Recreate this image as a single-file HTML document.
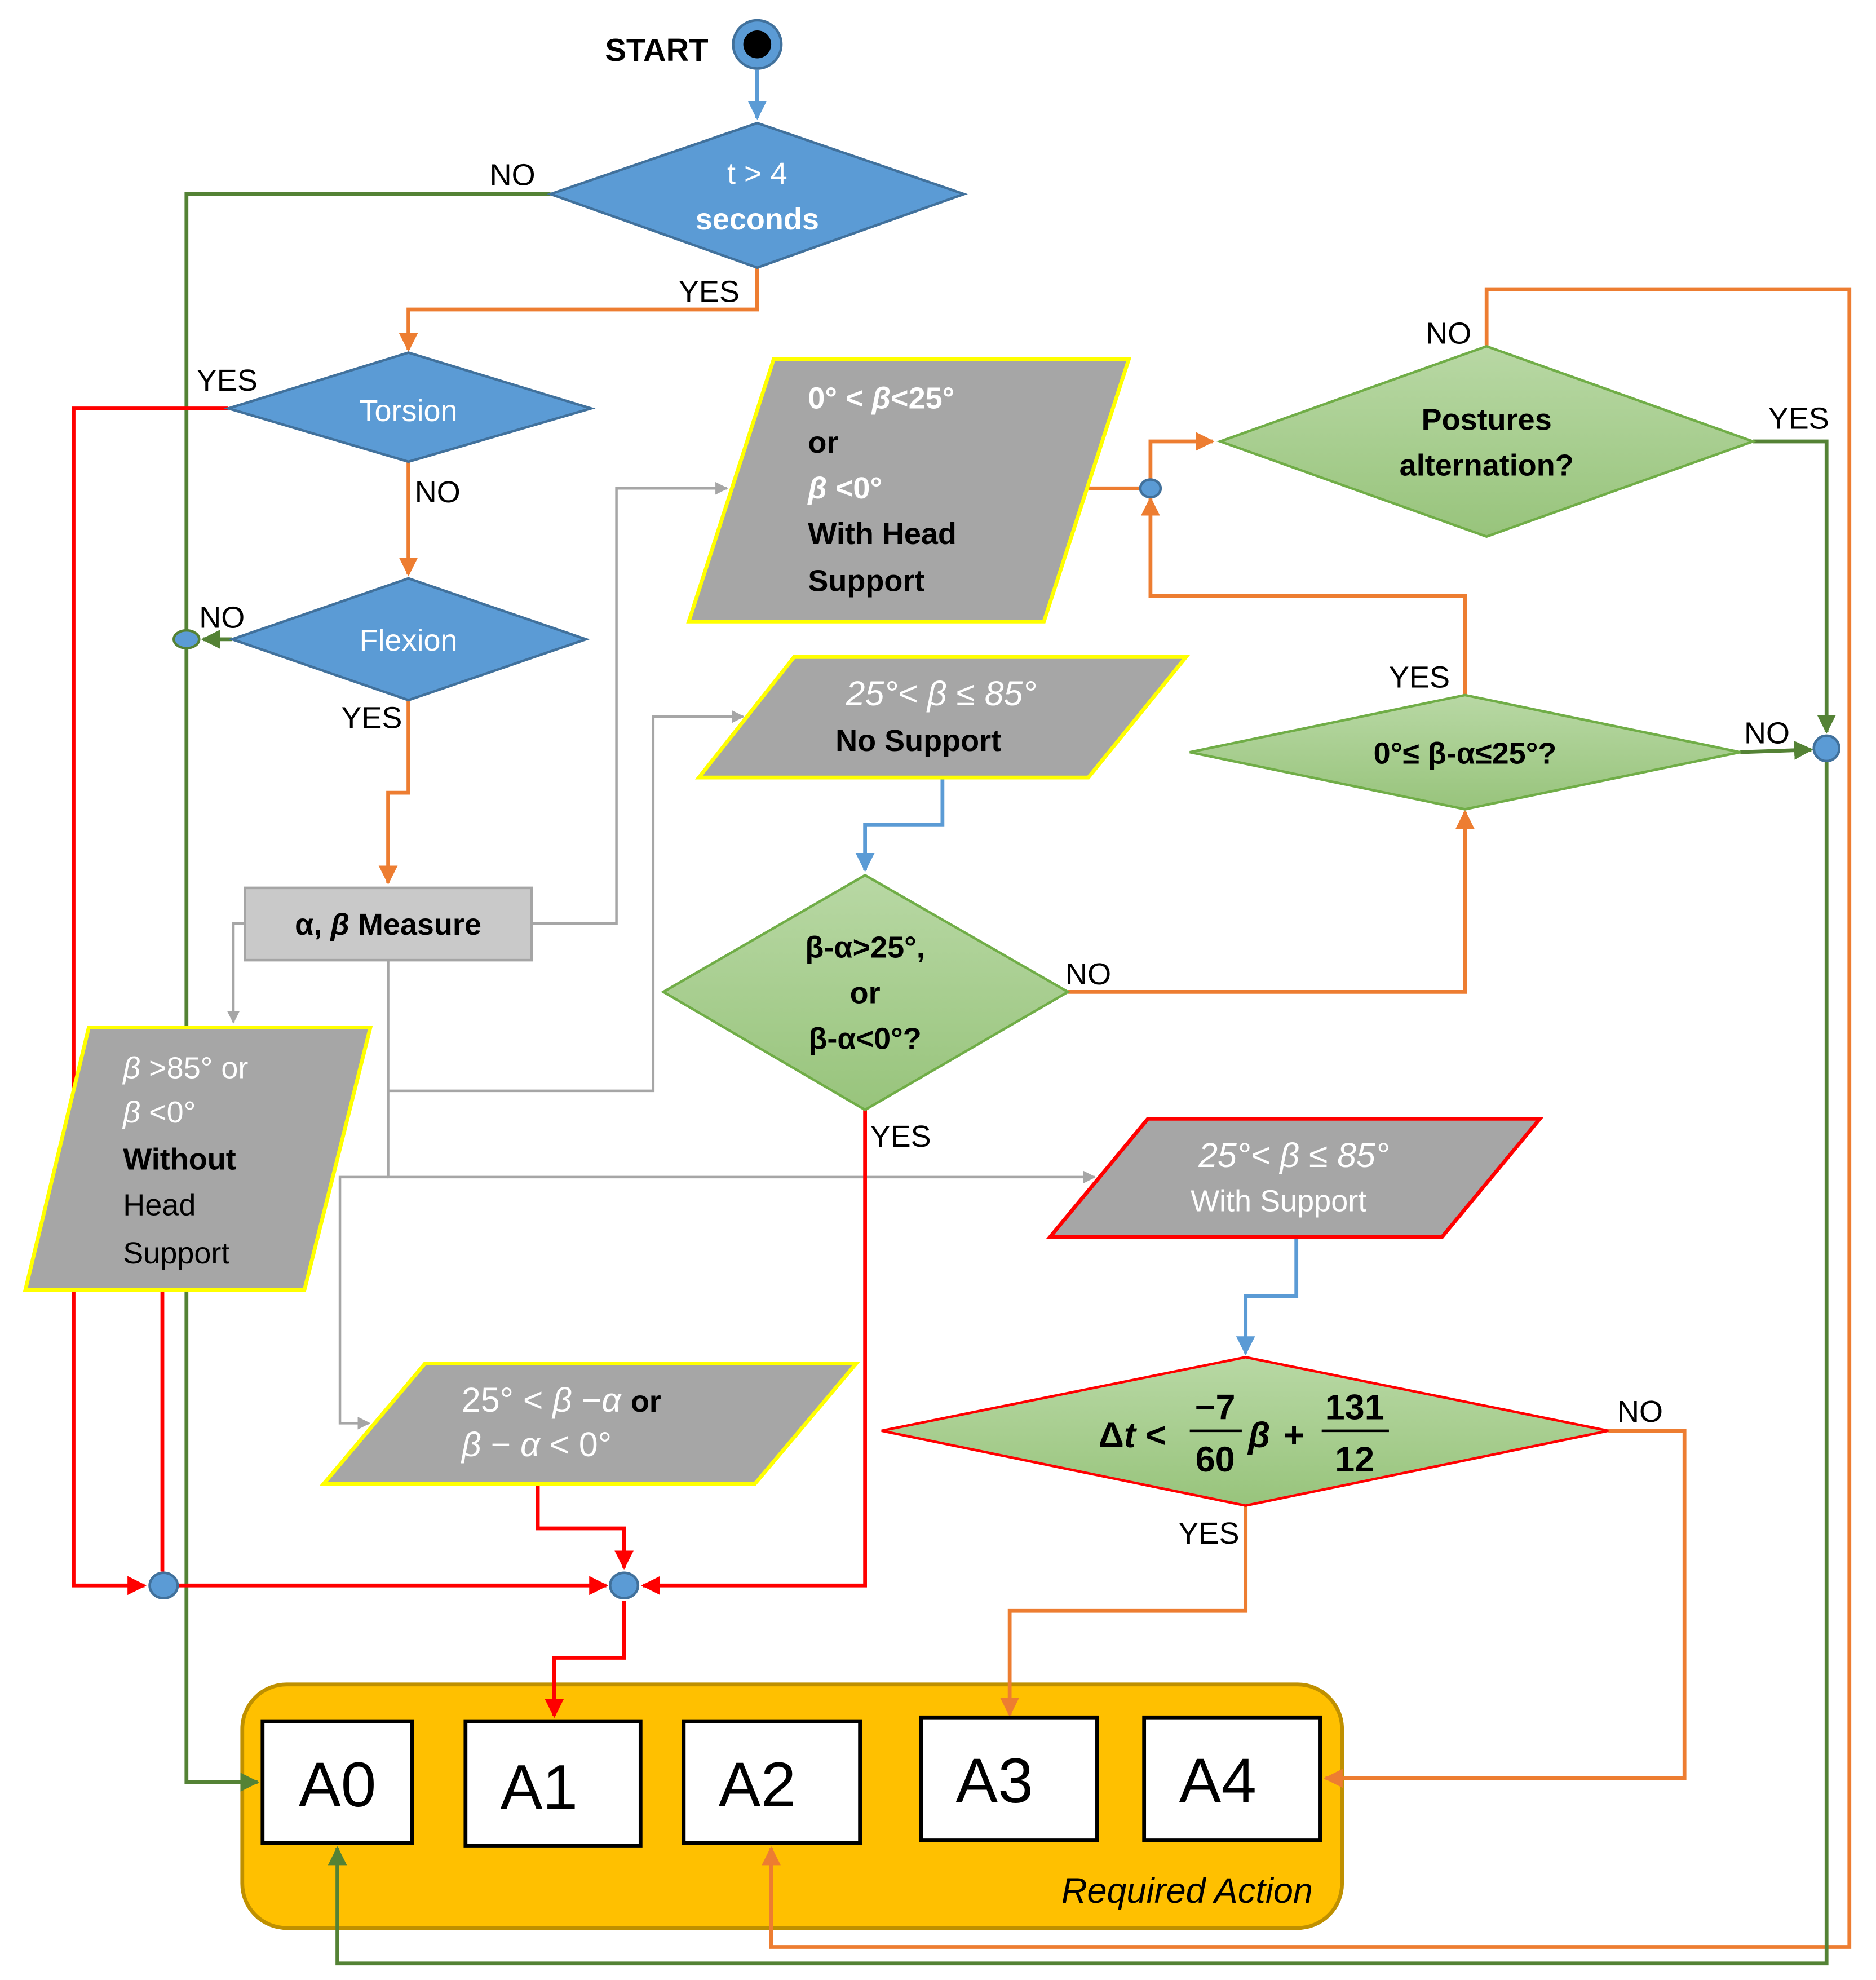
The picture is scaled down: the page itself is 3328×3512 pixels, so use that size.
<!DOCTYPE html>
<html><head><meta charset="utf-8"><style>
html,body{margin:0;padding:0;background:#fff;}
svg{display:block;}
text{font-family:"Liberation Sans",sans-serif;}
</style></head><body>
<svg width="3328" height="3512" viewBox="0 0 1479 1561" preserveAspectRatio="none" xmlns="http://www.w3.org/2000/svg">
<defs>
<linearGradient id="g" x1="0" y1="0" x2="0" y2="1"><stop offset="0" stop-color="#b8d8a4"/><stop offset="1" stop-color="#98c47c"/></linearGradient>
<marker id="ab" viewBox="0 0 10 10" refX="9" refY="5" markerWidth="5" markerHeight="5" orient="auto"><path d="M0,0L10,5L0,10z" fill="#5b9bd5"/></marker>
<marker id="ao" viewBox="0 0 10 10" refX="9" refY="5" markerWidth="5" markerHeight="5" orient="auto"><path d="M0,0L10,5L0,10z" fill="#ed7d31"/></marker>
<marker id="ar" viewBox="0 0 10 10" refX="9" refY="5" markerWidth="5" markerHeight="5" orient="auto"><path d="M0,0L10,5L0,10z" fill="#ff0000"/></marker>
<marker id="ag" viewBox="0 0 10 10" refX="9" refY="5" markerWidth="5" markerHeight="5" orient="auto"><path d="M0,0L10,5L0,10z" fill="#548235"/></marker>
<marker id="ay" viewBox="0 0 10 10" refX="9" refY="5" markerWidth="5" markerHeight="5" orient="auto"><path d="M0,0L10,5L0,10z" fill="#a6a6a6"/></marker>
</defs>

<!-- container -->
<rect x="191" y="1328" width="867" height="192" rx="35" fill="#ffc000" stroke="#bf9000" stroke-width="3"/>

<!-- connectors -->
<g fill="none" stroke-width="3">
<path d="M597,55V93" stroke="#5b9bd5" marker-end="url(#ab)"/>
<path d="M434,153H147V1405H203" stroke="#548235" marker-end="url(#ag)"/>
<path d="M597,211V244H322V276" stroke="#ed7d31" marker-end="url(#ao)"/>
<path d="M180,322H58V1250H114" stroke="#ff0000" marker-end="url(#ar)"/>
<path d="M322,364V453" stroke="#ed7d31" marker-end="url(#ao)"/>
<path d="M183,504H160" stroke="#548235" marker-end="url(#ag)"/>
<path d="M322,552V625H306V696" stroke="#ed7d31" marker-end="url(#ao)"/>
<g stroke="#a6a6a6" stroke-width="2">
<path d="M419,728H486V385H573" marker-end="url(#ay)"/>
<path d="M193,728H184V806" marker-end="url(#ay)"/>
<path d="M306,757V928H863" marker-end="url(#ay)"/>
<path d="M306,860H515V565H586" marker-end="url(#ay)"/>
<path d="M306,928H268V1122H291" marker-end="url(#ay)"/>
</g>
<path d="M858,385H898" stroke="#ed7d31"/>
<path d="M907,378V348H956" stroke="#ed7d31" marker-end="url(#ao)"/>
<path d="M1155,548V470H907V393" stroke="#ed7d31" marker-end="url(#ao)"/>
<path d="M1172,273V228H1458V1535H608V1457" stroke="#ed7d31" marker-end="url(#ao)"/>
<path d="M1382,348H1440V577" stroke="#548235" marker-end="url(#ag)"/>
<path d="M1372,593L1428,591" stroke="#548235" marker-end="url(#ag)"/>
<path d="M1440,600V1548H266V1457" stroke="#548235" marker-end="url(#ag)"/>
<path d="M743,613V650H682V686" stroke="#5b9bd5" marker-end="url(#ab)"/>
<path d="M842,782H1155V640" stroke="#ed7d31" marker-end="url(#ao)"/>
<path d="M682,875V1250H507" stroke="#ff0000" marker-end="url(#ar)"/>
<path d="M1022,975V1022H982V1067" stroke="#5b9bd5" marker-end="url(#ab)"/>
<path d="M1268,1128H1328V1402H1045" stroke="#ed7d31" marker-end="url(#ao)"/>
<path d="M982,1187V1270H796V1352" stroke="#ed7d31" marker-end="url(#ao)"/>
<path d="M128,1017V1239" stroke="#ff0000"/>
<path d="M140,1250H478" stroke="#ff0000" marker-end="url(#ar)"/>
<path d="M424,1170V1205H492V1236" stroke="#ff0000" marker-end="url(#ar)"/>
<path d="M492,1262V1307H437V1353" stroke="#ff0000" marker-end="url(#ar)"/>
</g>

<!-- start -->
<text x="477" y="48" font-size="25" font-weight="bold">START</text>
<circle cx="597" cy="35" r="19" fill="#5b9bd5" stroke="#41719c" stroke-width="2"/>
<circle cx="597" cy="35" r="11" fill="#000"/>

<!-- blue diamonds -->
<g fill="#5b9bd5" stroke="#41719c" stroke-width="2">
<polygon points="434,153 597,97 760,153 597,211"/>
<polygon points="180,322 322,278 466,322 322,364"/>
<polygon points="183,504 322,456 462,504 322,552"/>
</g>
<g fill="#fff" font-size="24" text-anchor="middle">
<text x="597" y="145">t &gt; 4</text>
<text x="597" y="181" font-weight="bold">seconds</text>
<text x="322" y="332">Torsion</text>
<text x="322" y="513">Flexion</text>
</g>

<!-- green diamonds -->
<g fill="url(#g)" stroke="#70ad47" stroke-width="2">
<polygon points="962,348 1172,273 1382,348 1172,423"/>
<polygon points="938,593 1155,548 1372,593 1155,638"/>
<polygon points="523,782 682,690 842,782 682,875"/>
</g>
<polygon points="695,1128 982,1070 1268,1128 982,1187" fill="url(#g)" stroke="#ff0000" stroke-width="2"/>
<g font-size="24" font-weight="bold" text-anchor="middle">
<text x="1172" y="339">Postures</text>
<text x="1172" y="375">alternation?</text>
<text x="1155" y="602">0°≤ β-α≤25°?</text>
<text x="682" y="755">β-α&gt;25°,</text>
<text x="682" y="791">or</text>
<text x="682" y="827">β-α&lt;0°?</text>
</g>
<!-- formula -->
<g font-family="Liberation Serif" font-size="28" font-weight="bold">
<text x="866" y="1141">Δ<tspan font-style="italic">t</tspan> &lt;</text>
<text x="958" y="1119" text-anchor="middle">−7</text>
<line x1="938" y1="1128" x2="979" y2="1128" stroke="#000" stroke-width="2"/>
<text x="958" y="1160" text-anchor="middle">60</text>
<text x="984" y="1141" font-style="italic">β</text>
<text x="1012" y="1141">+</text>
<text x="1068" y="1119" text-anchor="middle">131</text>
<line x1="1042" y1="1128" x2="1095" y2="1128" stroke="#000" stroke-width="2"/>
<text x="1068" y="1160" text-anchor="middle">12</text>
</g>

<!-- measure box -->
<rect x="193" y="700" width="226" height="57" fill="#c9c9c9" stroke="#a5a5a5" stroke-width="2"/>
<text x="306" y="737" font-size="24" font-weight="bold" text-anchor="middle">α, <tspan font-style="italic">β</tspan> Measure</text>

<!-- parallelograms -->
<g fill="#a6a6a6" stroke-width="3">
<polygon points="543,490 610,283 890,283 823,490" stroke="#ffff00"/>
<polygon points="551,613 626,518 935,518 858,613" stroke="#ffff00"/>
<polygon points="828,975 905,882 1214,882 1137,975" stroke="#ff0000"/>
<polygon points="20,1017 70,810 292,810 240,1017" stroke="#ffff00"/>
<polygon points="255,1170 335,1075 675,1075 595,1170" stroke="#ffff00"/>
</g>
<g font-size="24">
<text x="637" y="322" fill="#fff" font-weight="bold">0° &lt; <tspan font-style="italic">β</tspan>&lt;25°</text>
<text x="637" y="357" font-weight="bold">or</text>
<text x="637" y="393" fill="#fff" font-weight="bold"><tspan font-style="italic">β</tspan> &lt;0°</text>
<text x="637" y="429" font-weight="bold">With Head</text>
<text x="637" y="466" font-weight="bold">Support</text>
<text x="742" y="556" fill="#fff" font-family="Liberation Serif" font-style="italic" font-size="27" text-anchor="middle">25°&lt; β ≤ 85°</text>
<text x="724" y="592" font-weight="bold" text-anchor="middle">No Support</text>
<text x="1020" y="920" fill="#fff" font-family="Liberation Serif" font-style="italic" font-size="27" text-anchor="middle">25°&lt; β ≤ 85°</text>
<text x="1008" y="955" fill="#fff" text-anchor="middle">With Support</text>
<text x="97" y="850" fill="#fff"><tspan font-style="italic">β</tspan> &gt;85° or</text>
<text x="97" y="885" fill="#fff"><tspan font-style="italic">β</tspan> &lt;0°</text>
<text x="97" y="922" font-weight="bold">Without</text>
<text x="97" y="958">Head</text>
<text x="97" y="996">Support</text>
<text x="364" y="1113" fill="#fff" font-family="Liberation Serif" font-size="27">25° &lt; <tspan font-style="italic">β</tspan> −<tspan font-style="italic">α</tspan> <tspan fill="#000" font-family="Liberation Sans" font-weight="bold" font-size="24">  or</tspan></text>
<text x="364" y="1148" fill="#fff" font-family="Liberation Serif" font-size="27"><tspan font-style="italic">β</tspan>  − <tspan font-style="italic">α</tspan> &lt; 0°</text>
</g>

<!-- junction circles -->
<ellipse cx="147" cy="504" rx="10" ry="7" fill="#5b9bd5" stroke="#548235" stroke-width="2"/>
<ellipse cx="907" cy="385" rx="8" ry="7" fill="#5b9bd5" stroke="#41719c" stroke-width="2"/>
<circle cx="1440" cy="590" r="10" fill="#5b9bd5" stroke="#41719c" stroke-width="2"/>
<ellipse cx="129" cy="1250" rx="11" ry="10" fill="#5b9bd5" stroke="#41719c" stroke-width="2"/>
<ellipse cx="492" cy="1250" rx="11" ry="10" fill="#5b9bd5" stroke="#41719c" stroke-width="2"/>

<!-- labels -->
<g font-size="24">
<text x="386" y="146">NO</text>
<text x="535" y="238">YES</text>
<text x="155" y="308">YES</text>
<text x="327" y="396">NO</text>
<text x="157" y="495">NO</text>
<text x="269" y="574">YES</text>
<text x="1124" y="271">NO</text>
<text x="1394" y="338">YES</text>
<text x="1095" y="542">YES</text>
<text x="1375" y="586">NO</text>
<text x="840" y="776">NO</text>
<text x="686" y="904">YES</text>
<text x="1275" y="1121">NO</text>
<text x="929" y="1217">YES</text>
</g>

<!-- action boxes -->
<g fill="#fff" stroke="#000" stroke-width="3">
<rect x="207" y="1357" width="118" height="96"/>
<rect x="367" y="1357" width="138" height="98"/>
<rect x="539" y="1357" width="139" height="96"/>
<rect x="726" y="1354" width="139" height="97"/>
<rect x="902" y="1354" width="139" height="97"/>
</g>
<g font-size="50" text-anchor="middle">
<text x="266" y="1424">A0</text>
<text x="425" y="1426">A1</text>
<text x="597" y="1424">A2</text>
<text x="784" y="1421">A3</text>
<text x="960" y="1421">A4</text>
</g>
<text x="1035" y="1500" font-size="28" font-style="italic" text-anchor="end">Required Action</text>
</svg>
</body></html>
